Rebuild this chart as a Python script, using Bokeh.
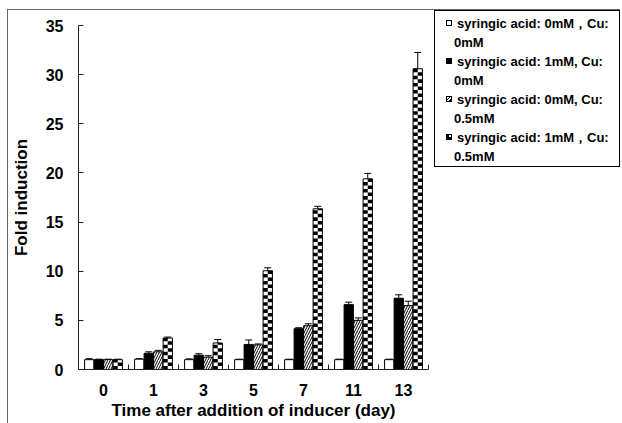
from bokeh.plotting import figure
from bokeh.models import Range1d, FixedTicker, Whisker, ColumnDataSource, TeeHead, Div
from bokeh.layouts import row
from bokeh.embed import file_html
from bokeh.resources import INLINE

# ---------------- data ----------------
days = ["0", "1", "3", "5", "7", "11", "13"]
s1 = [1.0, 1.05, 1.0, 1.0, 1.0, 1.0, 1.0]
s1_err = [0.1, 0.05, 0.08, 0.05, 0.05, 0.05, 0.05]
s2 = [1.0, 1.65, 1.45, 2.55, 4.15, 6.6, 7.25]
s2_err = [0.05, 0.15, 0.15, 0.45, 0.1, 0.25, 0.35]
s3 = [1.0, 1.8, 1.25, 2.5, 4.45, 5.0, 6.5]
s3_err = [0.05, 0.15, 0.15, 0.1, 0.2, 0.25, 0.45]
s4 = [1.0, 3.2, 2.7, 10.05, 16.35, 19.4, 30.6]
s4_err = [0.05, 0.1, 0.35, 0.3, 0.25, 0.55, 1.65]
legend_labels = [
    ["syringic acid: 0mM\uff0cCu:", "0mM"],
    ["syringic acid: 1mM, Cu:", "0mM"],
    ["syringic acid: 0mM, Cu:", "0.5mM"],
    ["syringic acid: 1mM\uff0cCu:", "0.5mM"],
]
y_ticks = [0, 5, 10, 15, 20, 25, 30, 35]

n = len(days)
centers = [i + 0.5 for i in range(n)]
offsets = [-0.285, -0.095, 0.095, 0.285]
bw = 0.186

p = figure(width=426, height=413, x_range=Range1d(0, n), y_range=Range1d(0, 35),
           toolbar_location=None, output_backend="svg",
           min_border_left=70, min_border_right=6, min_border_top=15, min_border_bottom=54)
p.outline_line_color = None
p.xgrid.visible = False
p.ygrid.visible = False
p.background_fill_color = "white"

def xs(k):
    return [c + offsets[k] for c in centers]

def err_src(k, vals, errs):
    return ColumnDataSource(dict(x=xs(k), lo=vals, hi=[v + e for v, e in zip(vals, errs)]))

p.vbar(x=xs(0), top=s1, width=bw, fill_color="white", line_color="black", line_width=1)
p.vbar(x=xs(1), top=s2, width=bw, fill_color="black", line_color="black", line_width=1)
p.vbar(x=xs(2), top=s3, width=bw, fill_color="white", line_color="black", line_width=1,
       hatch_pattern="right_diagonal_line", hatch_color="black", hatch_scale=5, hatch_weight=1)
p.vbar(x=xs(3), top=s4, width=bw, fill_color="white", line_color=None)
ch = 0.36
cx, cy, cw, chh = [], [], [], []
for xc, v in zip(xs(3), s4):
    r = 0
    while r * ch < v:
        y0 = r * ch
        y1 = min(v, y0 + ch)
        col = r % 2
        cx.append(xc - bw / 4 if col == 0 else xc + bw / 4)
        cy.append((y0 + y1) / 2)
        cw.append(bw / 2)
        chh.append(y1 - y0)
        r += 1
p.rect(x=cx, y=cy, width=cw, height=chh, fill_color="black", line_color=None)
p.vbar(x=xs(3), top=s4, width=bw, fill_color=None, line_color="black", line_width=1)

for k, (vals, errs) in enumerate([(s1, s1_err), (s2, s2_err), (s3, s3_err), (s4, s4_err)]):
    w = Whisker(base="x", lower="lo", upper="hi", source=err_src(k, vals, errs),
                line_color="black", line_width=1,
                upper_head=TeeHead(size=7, line_color="black", line_width=1), lower_head=None)
    p.add_layout(w)

p.xaxis.ticker = FixedTicker(ticks=centers, minor_ticks=list(range(n + 1)))
p.xaxis.major_label_overrides = {c: d for c, d in zip(centers, days)}
p.xaxis.major_tick_in = 0
p.xaxis.major_tick_out = 0
p.xaxis.minor_tick_in = 5
p.xaxis.minor_tick_out = 0
p.xaxis.axis_label = "Time after addition of inducer (day)"
p.yaxis.ticker = FixedTicker(ticks=y_ticks, minor_ticks=[])
p.yaxis.major_tick_in = 5
p.yaxis.major_tick_out = 0
p.yaxis.axis_label = "Fold induction"
for ax in (p.xaxis, p.yaxis):
    ax.axis_line_color = "#222222"
    ax.major_tick_line_color = "#222222"
    ax.minor_tick_line_color = "#222222"
    ax.major_label_text_font = "Liberation Sans"
    ax.major_label_text_font_style = "bold"
    ax.major_label_text_font_size = "16px"
    ax.major_label_text_color = "black"
    ax.axis_label_text_font = "Liberation Sans"
    ax.axis_label_text_font_style = "bold"
    ax.axis_label_text_font_size = "17px"
    ax.axis_label_text_color = "black"
p.xaxis.major_label_standoff = 14
p.xaxis.axis_label_standoff = 2
p.yaxis.major_label_standoff = 15
p.yaxis.axis_label_standoff = 12

# legend as HTML
icon_styles = [
    "background:#fff;",
    "background:#000;",
    "background:repeating-linear-gradient(135deg,#fff 0 1.5px,#000 1.5px 2.5px);",
    "background:conic-gradient(#fff 0 25%, #000 25% 100%);",
]
entries = []
for (a, b), st in zip(legend_labels, icon_styles):
    entries.append(
        '<div style="position:relative;padding-left:22px;">'
        '<span style="position:absolute;left:11px;top:6px;width:6px;height:6px;'
        'border:1px solid #000;' + st + '"></span>'
        + a + '<br><span style="margin-left:-3px;">' + b + '</span></div>'
    )
html = ('<div style="box-sizing:border-box;width:186px;height:157px;border:1px solid #000;'
        'background:#fff;padding-top:3px;font-family:\'Liberation Sans\',Arial,sans-serif;'
        'font-weight:bold;font-size:13px;line-height:19px;color:#000;white-space:nowrap;">'
        + "".join(entries) + '</div>')
lg = Div(text=html, width=186, height=157, margin=(0, 0, 0, 0))

layout = row(p, lg, styles={"margin-left": "7px", "margin-top": "9px",
                            "border-left": "1px solid #666", "border-top": "1px solid #666"})
open("out.html", "w").write(file_html(layout, INLINE))
